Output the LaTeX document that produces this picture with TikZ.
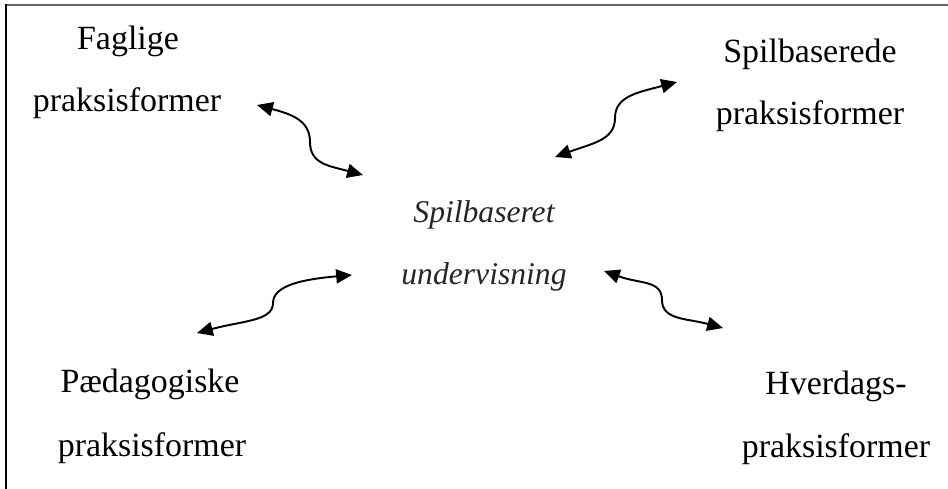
\documentclass[tikz,border=0pt]{standalone}
\usepackage{fontspec}
\setmainfont{Liberation Serif}
\usetikzlibrary{arrows.meta}
\tikzset{
  lbl/.style={anchor=base, inner sep=0pt, font=\fontsize{19.3}{23}\selectfont},
  mid/.style={anchor=base, inner sep=0pt, text=black!85, font=\fontsize{18}{21}\selectfont\itshape},
  arr/.style={line width=1.1pt, {Triangle[length=9pt,width=8pt]}-{Triangle[length=9pt,width=8pt]}},
}
\begin{document}
\begin{tikzpicture}[x=0.02cm,y=-0.02cm]
\useasboundingbox (0,0) rectangle (948,489);
% frame
\draw[line width=1.1pt, black!60] (5,5) -- (948,5);
\draw[line width=1.1pt, black] (6,4.5) -- (6,489);
% labels
\node[lbl] (f1) at (128,50) {Faglige};
\node[lbl] (f2) at (127,112) {praksisformer};
\node[lbl] (s1) at (810,63) {Spilbaserede};
\node[lbl] (s2) at (810,125) {praksisformer};
\node[lbl] (p1) at (150,393) {Pædagogiske};
\node[lbl] (p2) at (152,457) {praksisformer};
\node[lbl] (h1) at (836,395) {Hverdags-};
\node[lbl] (h2) at (836,458) {praksisformer};
\node[mid] (c1) at (484,223) {Spilbaseret};
\node[mid] (c2) at (484,285) {undervisning};
% arrow end points
\coordinate (a1) at (257,105); \coordinate (m1) at (310,142); \coordinate (b1) at (363,175);
\coordinate (a2) at (555,157); \coordinate (m2) at (615,118); \coordinate (b2) at (677,82);
\coordinate (a3) at (197,333); \coordinate (m3) at (273,303); \coordinate (b3) at (352,275);
\coordinate (a4) at (604,271); \coordinate (m4) at (662,300); \coordinate (b4) at (723,328);
% arrows
\draw[arr] (a1) .. controls +(15:35) and +(0,-22) .. (m1) .. controls +(0,22) and +(195:35) .. (b1);
\draw[arr] (a2) .. controls +(-20:40) and +(0,22) .. (m2) .. controls +(0,-22) and +(165:40) .. (b2);
\draw[arr] (a3) .. controls +(-15:48) and +(0,18) .. (m3) .. controls +(0,-18) and +(175:48) .. (b3);
\draw[arr] (a4) .. controls +(20:38) and +(0,-20) .. (m4) .. controls +(0,20) and +(195:38) .. (b4);
\end{tikzpicture}
\end{document}
